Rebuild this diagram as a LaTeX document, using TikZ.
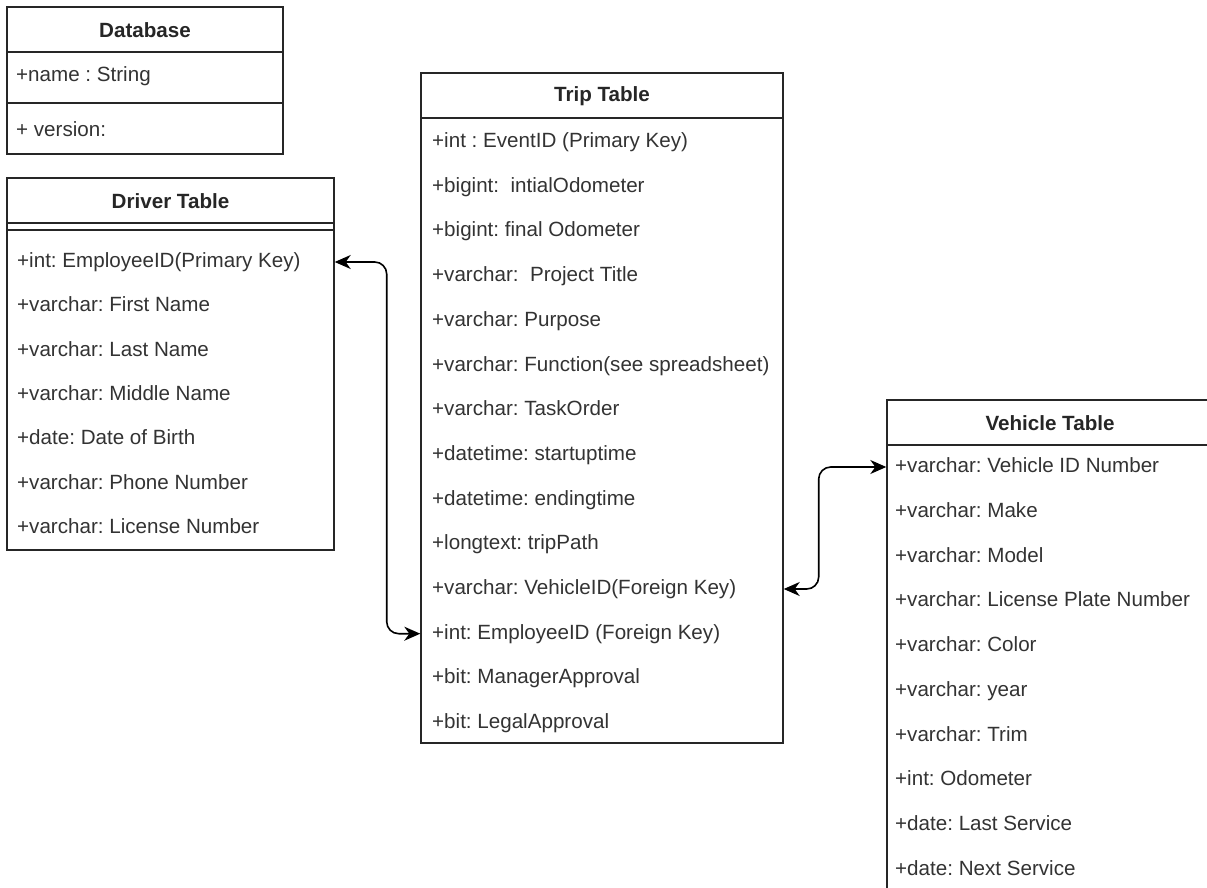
\documentclass[tikz,border=0pt]{standalone}
\usepackage{fontspec}
\setmainfont{Liberation Sans}
\frenchspacing
\usetikzlibrary{arrows.meta}
\tikzset{
  tbl/.style={draw=black!85, line width=1.4pt, fill=white, inner sep=0pt},
  sep/.style={draw=black!85, line width=1.4pt},
  hd/.style={font=\fontsize{20.6}{24}\selectfont\bfseries, text=black!85, inner sep=0pt},
  fld/.style={anchor=west, font=\fontsize{20.6}{24}\selectfont, text=black!80, inner sep=0pt, text height=15pt, text depth=4pt},
  link/.style={line width=1.6pt, draw=black, rounded corners=12pt,
    {Stealth[length=16pt,width=14pt,inset=5pt]}-{Stealth[length=16pt,width=14pt,inset=5pt]}}
}
\begin{document}
\begin{tikzpicture}[x=1pt,y=-1pt]
			\clip (0,0) rectangle (1207,888);
			% Database
			\node[tbl, minimum width=276pt, minimum height=147pt] (db) at (145,80.5) {};
			\draw[sep] (7,52) -- (283,52);
			\draw[sep] (7,103) -- (283,103);
			\node[hd] (dbTitle) at (145,30) {Database};
			\node[fld] (dbName) at (16,76) {+name : String};
			\node[fld] (dbVersion) at (16,131) {+ version:};
			% Driver Table
			\node[tbl, minimum width=327pt, minimum height=372pt] (driver) at (170.5,364) {};
			\draw[sep] (7,223) -- (334,223);
			\draw[sep] (7,230) -- (334,230);
			\node[hd] (drvTitle) at (170.5,201) {Driver Table};
			\node[fld] (drvEmp) at (17,262) {+int: EmployeeID(Primary Key)};
			\node[fld] (drvFirst) at (17,306.3) {+varchar: First Name};
			\node[fld] (drvLast) at (17,350.6) {+varchar: Last Name};
			\node[fld] (drvMiddle) at (17,395) {+varchar: Middle Name};
			\node[fld] (drvBirth) at (17,439.2) {+date: Date of Birth};
			\node[fld] (drvPhone) at (17,483.5) {+varchar: Phone Number};
			\node[fld] (drvLicense) at (17,528) {+varchar: License Number};
			% Trip Table
			\node[tbl, minimum width=362pt, minimum height=670pt] (trip) at (602,408) {};
			\draw[sep] (421,118) -- (783,118);
			\node[hd] (tripTitle) at (602,96) {Trip Table};
			\node[fld] (tripEvent) at (432,142) {+int : EventID (Primary Key)};
			\node[fld] (tripInitOdo) at (432,186.7) {+bigint:\ \ intialOdometer};
			\node[fld] (tripFinalOdo) at (432,231.4) {+bigint: final Odometer};
			\node[fld] (tripProject) at (432,276.1) {+varchar:\ \ Project Title};
			\node[fld] (tripPurpose) at (432,320.8) {+varchar: Purpose};
			\node[fld] (tripFunction) at (432,365.5) {+varchar: Function(see spreadsheet)};
			\node[fld] (tripTask) at (432,410.2) {+varchar: TaskOrder};
			\node[fld] (tripStart) at (432,454.9) {+datetime: startuptime};
			\node[fld] (tripEnd) at (432,499.6) {+datetime: endingtime};
			\node[fld] (tripPath) at (432,544.3) {+longtext: tripPath};
			\node[fld] (tripVeh) at (432,589) {+varchar: VehicleID(Foreign Key)};
			\node[fld] (tripEmp) at (432,633.7) {+int: EmployeeID (Foreign Key)};
			\node[fld] (tripManager) at (432,678.4) {+bit: ManagerApproval};
			\node[fld] (tripLegal) at (432,723) {+bit: LegalApproval};
			% Vehicle Table
			\node[tbl, minimum width=353pt, minimum height=520pt] (vehicle) at (1063.5,660) {};
			\draw[sep] (887,445) -- (1240,445);
			\node[hd] (vehTitle) at (1050,423) {Vehicle Table};
			\node[fld] (vehId) at (895,467) {+varchar: Vehicle ID Number};
			\node[fld] (vehMake) at (895,511.7) {+varchar: Make};
			\node[fld] (vehModel) at (895,556.5) {+varchar: Model};
			\node[fld] (vehPlate) at (895,601.2) {+varchar: License Plate Number};
			\node[fld] (vehColor) at (895,646) {+varchar: Color};
			\node[fld] (vehYear) at (895,690.7) {+varchar: year};
			\node[fld] (vehTrim) at (895,735.5) {+varchar: Trim};
			\node[fld] (vehOdo) at (895,780.2) {+int: Odometer};
			\node[fld] (vehLast) at (895,825) {+date: Last Service};
			\node[fld] (vehNext) at (895,869.7) {+date: Next Service};
			% links
			\draw[link] (driver.east |- drvEmp) -- ++(52,0) |- (trip.west |- tripEmp);
			\draw[link] (trip.east |- tripVeh) -- ++(35,0) |- (vehicle.west |- vehId);
		\end{tikzpicture}
\end{document}
